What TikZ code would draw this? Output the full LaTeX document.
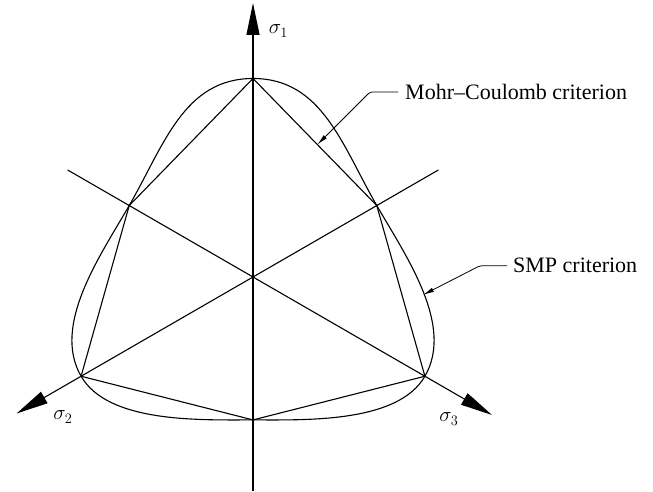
\documentclass[tikz,border=0pt]{standalone}
\usepackage{fontspec}
\setmainfont{Liberation Serif}
\usepackage{tikz}
\usetikzlibrary{arrows.meta,calc}
\tikzset{
  piaxis/.style={line width=1.1pt, -{Triangle[length=32pt,width=13pt]}},
  pimc/.style={line width=1.1pt, line join=miter},
  pismp/.style={line width=1.1pt},
  pilead/.style={line width=0.8pt, rounded corners=2pt,
                 -{Latex[length=11pt,width=4.5pt]}},
  pilabel/.style={font=\fontsize{20.5}{24}\selectfont, inner sep=0pt},
  pitext/.style={font=\fontsize{22}{26}\selectfont, inner sep=0pt, anchor=west},
}
\newcommand\piRc{198.5}
\newcommand\piK{0.72}

\begin{document}
\begin{tikzpicture}[x=1pt,y=1pt]
  \useasboundingbox (-253,-215) rectangle (400,277);
  \coordinate (O) at (0,0);
  % hexagon corners
  \foreach \a/\r/\n in {90/1/v1,150/\piK/v2,210/1/v3,270/\piK/v4,330/1/v5,30/\piK/v6}
    {\coordinate (\n) at (\a:{\r*\piRc});}
  % axes
  \coordinate (s1) at (90:274);
  \coordinate (s2) at (210:273);
  \coordinate (s3) at (330:276);
  \coordinate (e1) at (270:214);
  \coordinate (e2) at (30:214);
  \coordinate (e3) at (150:214);
  \draw[piaxis] (e1) -- (s1);
  \draw[piaxis] (e2) -- (s2);
  \draw[piaxis] (e3) -- (s3);
  \node[pilabel] (l1) at (25.5,246) {$\sigma_1$};
  \node[pilabel] (l2) at (-190,-140) {$\sigma_2$};
  \node[pilabel] (l3) at (196,-142) {$\sigma_3$};
  % Mohr-Coulomb and SMP
  \draw[pimc] (v1) -- (v2) -- (v3) -- (v4) -- (v5) -- (v6) -- cycle;
  \draw[pismp] (v1) to[out=180,in=60] (v2)
    to[out=240,in=120,looseness=0.85] (v3)
    to[out=300,in=180,looseness=0.78] (v4)
    to[out=0,in=240,looseness=0.78] (v5)
    to[out=60,in=300,looseness=0.85] (v6)
    to[out=120,in=0] (v1);
  % leaders
  \node[pitext] (mc) at (152,185) {Mohr--Coulomb criterion};
  \coordinate (mcbend) at (117,185);
  \coordinate (mctip) at ($(v1)!0.52!(v6)$);
  \draw[pilead] ($(mc.west)+(-7,0)$) -- (mcbend) -- (mctip);
  \node[pitext] (smp) at (260,11.3) {SMP criterion};
  \coordinate (smpbend) at (227,11.3);
  \coordinate (smptip) at (-6:171);
  \draw[pilead] ($(smp.west)+(-6,0)$) -- (smpbend) -- (smptip);
\end{tikzpicture}
\end{document}
